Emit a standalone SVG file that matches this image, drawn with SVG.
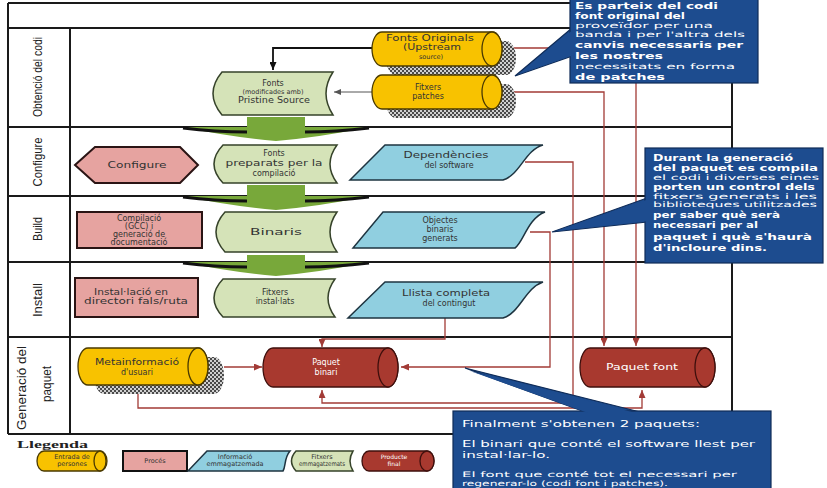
<svg xmlns="http://www.w3.org/2000/svg" width="827" height="488" viewBox="0 0 827 488">
<defs>
<pattern id="chk" width="4" height="4" patternUnits="userSpaceOnUse">
<rect width="4" height="4" fill="#d0d0d0"/>
<rect width="2" height="2" fill="#4a4a4a"/>
<rect x="2" y="2" width="2" height="2" fill="#4a4a4a"/>
</pattern>
<marker id="ar" markerWidth="8" markerHeight="7" refX="8" refY="3.5" orient="auto" markerUnits="userSpaceOnUse"><path d="M0,0 L8,3.5 L0,7 z" fill="#a23b36"/></marker>
<marker id="ab" markerWidth="8" markerHeight="7" refX="8" refY="3.5" orient="auto" markerUnits="userSpaceOnUse"><path d="M0,0 L8,3.5 L0,7 z" fill="#111"/></marker>
<marker id="ag" markerWidth="7" markerHeight="6" refX="7" refY="3" orient="auto" markerUnits="userSpaceOnUse"><path d="M0,0 L7,3 L0,6 z" fill="#555"/></marker>
</defs>
<style>
.ln{stroke:#1a1a1a;stroke-width:2;fill:none}
.lbl{font-family:"Liberation Sans",Arial,sans-serif;font-size:12px;fill:#222;text-anchor:middle}
.t{font-family:"DejaVu Sans",Verdana,sans-serif;font-size:8px;fill:#333;text-anchor:middle}
.ts{font-family:"DejaVu Sans",Verdana,sans-serif;font-size:6.5px;fill:#333;text-anchor:middle}
.tw{font-family:"DejaVu Sans",Verdana,sans-serif;font-size:8px;fill:#fff;text-anchor:middle}
.tws{font-family:"DejaVu Sans",Verdana,sans-serif;font-size:6px;fill:#fff;text-anchor:middle}
.yel{fill:#f8c200;stroke:#4a3a00;stroke-width:1.3}
.red{fill:#a8392f;stroke:#3e0f0c;stroke-width:1.3}
.pink{fill:#e6a3a0;stroke:#2a1414;stroke-width:2}
.grn{fill:#d5e3b8;stroke:#36432a;stroke-width:1.5}
.blu{fill:#90cfe0;stroke:#1e3440;stroke-width:1.5}
.shd{fill:url(#chk)}
.ga{fill:#78a83a}
.rl{stroke:#a23b36;stroke-width:1.3;fill:none}
.call{fill:#1d4c8f;stroke:#0f2c58;stroke-width:1.2}
.ct{font-family:"DejaVu Sans",Verdana,sans-serif;font-size:9.5px;fill:#fff;font-weight:bold}
.cs{font-family:"DejaVu Sans",Verdana,sans-serif;font-size:7.5px;fill:#fff}
.cn{font-family:"DejaVu Sans",Verdana,sans-serif;font-size:9.5px;fill:#fff}
</style>
<rect width="827" height="488" fill="#fff"/>

<g id="frame">
<path class="ln" d="M8,3 H732 M8,28 H732 M8,127 H732 M8,196 H732 M8,262 H732 M8,337 H732 M8,434 H732 M8,3 V434 M70,28 V434 M732,3 V434"/>
<text class="lbl" transform="translate(42,77) rotate(-90)" textLength="80" lengthAdjust="spacingAndGlyphs">Obtenció del codi</text>
<text class="lbl" transform="translate(42,162) rotate(-90)" textLength="49" lengthAdjust="spacingAndGlyphs">Configure</text>
<text class="lbl" transform="translate(42,229) rotate(-90)" textLength="24" lengthAdjust="spacingAndGlyphs">Build</text>
<text class="lbl" transform="translate(42,300) rotate(-90)" textLength="34" lengthAdjust="spacingAndGlyphs">Install</text>
<text class="lbl" transform="translate(26,388) rotate(-90)" textLength="84" lengthAdjust="spacingAndGlyphs">Generació del</text>
<text class="lbl" transform="translate(51,384) rotate(-90)" textLength="36" lengthAdjust="spacingAndGlyphs">paquet</text>
</g>

<g id="flow-arrows">
<path class="ga" d="M183,127 L369,127 Q322,137 276,141 Q230,137 183,127 Z"/>
<path d="M183,128 Q215,132 247,132 M305,132 Q335,132 369,128" stroke="#111" stroke-width="3" fill="none"/>
<rect class="ga" x="247" y="117" width="58" height="15"/>
<path class="ga" d="M183,196 L369,196 Q322,206 276,210 Q230,206 183,196 Z"/>
<path d="M183,197 Q215,201 247,201 M305,201 Q335,201 369,197" stroke="#111" stroke-width="3" fill="none"/>
<rect class="ga" x="247" y="185" width="58" height="15"/>
<path class="ga" d="M183,262 L369,262 Q322,272 276,276 Q230,272 183,262 Z"/>
<path d="M183,263 Q215,267 247,267 M305,267 Q335,267 369,263" stroke="#111" stroke-width="3" fill="none"/>
<rect class="ga" x="247" y="255" width="58" height="11"/>
</g>

<g id="connectors">
<path d="M372,48 H273 V70" stroke="#111" stroke-width="1.8" fill="none" marker-end="url(#ab)"/>
<path d="M372,92 H334" stroke="#555" stroke-width="1" fill="none" marker-end="url(#ag)"/>
<path class="rl" d="M512,48 H636 V346" marker-end="url(#ar)"/>
<path class="rl" d="M512,92 H604 V346" marker-end="url(#ar)"/>
<path class="rl" d="M525,162 H573 V403 H322 V390" marker-end="url(#ar)"/>
<path class="rl" d="M138,386 V408 H642 V390" marker-end="url(#ar)"/>
<path class="rl" d="M530,232 H550 V367 H401" marker-end="url(#ar)"/>
<path class="rl" d="M445,318 V339 H322 V347" marker-end="url(#ar)"/>
<path class="rl" d="M224,367 H262" marker-end="url(#ar)"/>
</g>

<g id="n-fonts-originals">
<path class="shd" d="M396,41 L506,41 A10,17 0 0 1 506,75 L396,75 A10,17 0 0 1 396,41 Z"/>
<path class="yel" d="M382,32 L492,32 A10,17 0 0 1 492,66 L382,66 A10,17 0 0 1 382,32 Z"/>
<ellipse class="yel" cx="492" cy="49" rx="10" ry="17"/>
<text class="t" x="430" y="41" textLength="88" lengthAdjust="spacingAndGlyphs">Fonts Originals</text>
<text class="t" x="432" y="50" textLength="58" lengthAdjust="spacingAndGlyphs">(Upstream</text>
<text class="ts" x="431" y="59">source)</text>
</g>

<g id="n-patches">
<path class="shd" d="M396,84 L506,84 A10,17 0 0 1 506,118 L396,118 A10,17 0 0 1 396,84 Z"/>
<path class="yel" d="M382,75 L492,75 A10,17 0 0 1 492,109 L382,109 A10,17 0 0 1 382,75 Z"/>
<ellipse class="yel" cx="492" cy="92" rx="10" ry="17"/>
<text class="t" x="428" y="90">Fitxers</text>
<text class="t" x="428" y="99">patches</text>
</g>

<g id="n-fonts-modif">
<path class="grn" d="M222,72 L333,72 Q319,93.5 333,115 L222,115 Q204,93.5 222,72 Z"/>
<text class="t" x="273" y="86">Fonts</text>
<text class="ts" x="273" y="94">(modificades amb)</text>
<text class="t" x="274" y="103" textLength="72" lengthAdjust="spacingAndGlyphs">Pristine Source</text>
</g>

<g id="n-configure">
<polygon class="pink" points="75,165 95,147 180,147 198,165 180,183 95,183"/>
<text class="t" x="137" y="168" textLength="59" lengthAdjust="spacingAndGlyphs">Configure</text>
</g>

<g id="n-fonts-prep">
<path class="grn" d="M223,145 L337,145 Q323,164 337,183 L223,183 Q205,164 223,145 Z"/>
<text class="t" x="274" y="156">Fonts</text>
<text class="t" x="274" y="166" textLength="97" lengthAdjust="spacingAndGlyphs">preparats per la</text>
<text class="t" x="274" y="176">compilació</text>
</g>

<g id="n-dependencies">
<path class="blu" d="M385,145 L543,145 C525,150 520,175 503,180 L350,180 Z"/>
<text class="t" x="446" y="158" textLength="85" lengthAdjust="spacingAndGlyphs">Dependències</text>
<text class="t" x="449" y="168">del software</text>
</g>

<g id="n-compilacio">
<rect class="pink" x="77" y="212" width="125" height="36"/>
<text class="t" x="139" y="221">Compilació</text>
<text class="t" x="139" y="229">(GCC) i</text>
<text class="t" x="139" y="237">generació de</text>
<text class="t" x="139" y="245">documentació</text>
</g>

<g id="n-binaris">
<path class="grn" d="M225,212 L337,212 Q323,232 337,252 L225,252 Q207,232 225,212 Z"/>
<text class="t" x="276" y="235" textLength="52" lengthAdjust="spacingAndGlyphs">Binaris</text>
</g>

<g id="n-objectes">
<path class="blu" d="M383,212 L545,212 C528,218 523,243 515,248 L353,248 Z"/>
<text class="t" x="440" y="223">Objectes</text>
<text class="t" x="440" y="232">binaris</text>
<text class="t" x="440" y="241">generats</text>
</g>

<g id="n-installacio">
<rect class="pink" x="75" y="278" width="123" height="39"/>
<text class="t" x="131" y="295" textLength="74" lengthAdjust="spacingAndGlyphs">Instal·lació en</text>
<text class="t" x="136" y="304" textLength="104" lengthAdjust="spacingAndGlyphs">directori fals/ruta</text>
</g>

<g id="n-fitxers-inst">
<path class="grn" d="M223,279 L335,279 Q321,298 335,317 L223,317 Q205,298 223,279 Z"/>
<text class="t" x="275" y="295">Fitxers</text>
<text class="t" x="275" y="304">instal·lats</text>
</g>

<g id="n-llista">
<path class="blu" d="M385,282 L543,282 C525,288 520,313 503,318 L348,318 Z"/>
<text class="t" x="446" y="296" textLength="88" lengthAdjust="spacingAndGlyphs">Llista completa</text>
<text class="t" x="449" y="306">del contingut</text>
</g>

<g id="n-metainfo">
<path class="shd" d="M104,357 L214,357 A10,18.5 0 0 1 214,394 L104,394 A10,18.5 0 0 1 104,357 Z"/>
<path class="yel" d="M88,348 L198,348 A10,18.5 0 0 1 198,385 L88,385 A10,18.5 0 0 1 88,348 Z"/>
<ellipse class="yel" cx="198" cy="366.5" rx="10" ry="18.5"/>
<text class="t" x="137" y="365" textLength="84" lengthAdjust="spacingAndGlyphs">Metainformació</text>
<text class="t" x="137" y="375">d'usuari</text>
</g>

<g id="n-paquet-binari">
<path class="red" d="M273,348 L388,348 A10,19.5 0 0 1 388,387 L273,387 A10,19.5 0 0 1 273,348 Z"/>
<ellipse class="red" cx="388" cy="367.5" rx="10" ry="19.5"/>
<text class="tw" x="326" y="365">Paquet</text>
<text class="tw" x="326" y="375">binari</text>
</g>

<g id="n-paquet-font">
<path class="red" d="M590,348 L705,348 A10,19.5 0 0 1 705,387 L590,387 A10,19.5 0 0 1 590,348 Z"/>
<ellipse class="red" cx="705" cy="367.5" rx="10" ry="19.5"/>
<text class="tw" x="642" y="370" textLength="72" lengthAdjust="spacingAndGlyphs">Paquet font</text>
</g>

<g id="legend">
<text x="17" y="448" font-family="Liberation Serif,serif" font-size="10" font-weight="bold" fill="#222" textLength="71" lengthAdjust="spacingAndGlyphs">Llegenda</text>
<path class="yel" d="M44,451 L100,451 A7,10 0 0 1 100,471 L44,471 A7,10 0 0 1 44,451 Z"/>
<ellipse class="yel" cx="100" cy="461" rx="6" ry="10"/>
<text class="ts" x="72" y="459">Entrada de</text>
<text class="ts" x="72" y="466">persones</text>
<rect x="123" y="451" width="64" height="20" fill="#e6a3a0" stroke="#111" stroke-width="2"/>
<text class="ts" x="155" y="463">Procés</text>
<path class="blu" d="M207,451 L290,451 C284,458 286,466 283,471 L188,471 Z"/>
<text class="ts" x="235" y="459">Informació</text>
<text class="ts" x="235" y="466">emmagatzemada</text>
<path class="grn" d="M296,451 L353,451 Q347,461 353,471 L296,471 Q287,461 296,451 Z"/>
<text class="ts" x="322" y="459">Fitxers</text>
<text class="ts" x="322" y="466" textLength="46" lengthAdjust="spacingAndGlyphs">emmagatzemats</text>
<path class="red" d="M369,451 L427,451 A7,10 0 0 1 427,471 L369,471 A7,10 0 0 1 369,451 Z"/>
<ellipse class="red" cx="427" cy="461" rx="7" ry="10"/>
<text class="tws" x="394" y="459">Producte</text>
<text class="tws" x="394" y="466">final</text>
</g>

<g id="callout-top">
<polygon class="call" points="572,28 515,76 572,56"/>
<rect class="call" x="570" y="-2" width="188" height="85"/>
<polygon points="574,29 519,74 574,55" fill="#1d4c8f"/>
<text class="ct" x="575" y="9" textLength="143" lengthAdjust="spacingAndGlyphs">Es parteix del codi</text>
<text class="ct" x="575" y="19" textLength="110" lengthAdjust="spacingAndGlyphs">font original del</text>
<text class="cs" x="575" y="28" textLength="138" lengthAdjust="spacingAndGlyphs">proveïdor per una</text>
<text class="cs" x="575" y="37" textLength="170" lengthAdjust="spacingAndGlyphs">banda i per l'altra dels</text>
<text class="ct" x="575" y="48" textLength="168" lengthAdjust="spacingAndGlyphs">canvis necessaris per</text>
<text class="ct" x="575" y="59" textLength="88" lengthAdjust="spacingAndGlyphs">les nostres</text>
<text class="cs" x="575" y="69" textLength="160" lengthAdjust="spacingAndGlyphs">necessitats en forma</text>
<text class="ct" x="575" y="80" textLength="90" lengthAdjust="spacingAndGlyphs">de patches</text>
</g>

<g id="callout-mid">
<polygon class="call" points="647,198 552,232 647,222"/>
<rect class="call" x="645" y="148" width="178" height="115"/>
<polygon points="649,199 556,231 649,221" fill="#1d4c8f"/>
<text class="ct" x="653" y="161" textLength="140" lengthAdjust="spacingAndGlyphs">Durant la generació</text>
<text class="ct" x="653" y="171" textLength="165" lengthAdjust="spacingAndGlyphs">del paquet es compila</text>
<text class="cs" x="653" y="180" textLength="166" lengthAdjust="spacingAndGlyphs">el codi i diverses eines</text>
<text class="ct" x="653" y="190" textLength="162" lengthAdjust="spacingAndGlyphs">porten un control dels</text>
<text class="cs" x="653" y="199" textLength="164" lengthAdjust="spacingAndGlyphs">fitxers generats i les</text>
<text class="cs" x="653" y="207" textLength="164" lengthAdjust="spacingAndGlyphs">biblioteques utilitzades</text>
<text class="ct" x="653" y="218" textLength="127" lengthAdjust="spacingAndGlyphs">per saber què serà</text>
<text class="ct" x="653" y="228" textLength="105" lengthAdjust="spacingAndGlyphs">necessari per al</text>
<text class="ct" x="653" y="240" textLength="159" lengthAdjust="spacingAndGlyphs">paquet i què s'haurà</text>
<text class="ct" x="653" y="251" textLength="114" lengthAdjust="spacingAndGlyphs">d'incloure dins.</text>
</g>

<g id="callout-bottom">
<polygon class="call" points="465,368 585,412 640,412"/>
<rect class="call" x="453" y="411" width="318" height="80"/>
<polygon points="470,371 588,413 636,413" fill="#1d4c8f"/>
<text class="cn" x="462" y="427" textLength="238" lengthAdjust="spacingAndGlyphs">Finalment s'obtenen 2 paquets:</text>
<text class="cn" x="462" y="447" textLength="293" lengthAdjust="spacingAndGlyphs">El binari que conté el software llest per</text>
<text class="cn" x="462" y="458" textLength="88" lengthAdjust="spacingAndGlyphs">instal·lar-lo.</text>
<text class="cs" x="462" y="477" textLength="275" lengthAdjust="spacingAndGlyphs">El font que conté tot el necessari per</text>
<text class="cs" x="462" y="486" textLength="206" lengthAdjust="spacingAndGlyphs">regenerar-lo (codi font i patches).</text>
</g>
</svg>
